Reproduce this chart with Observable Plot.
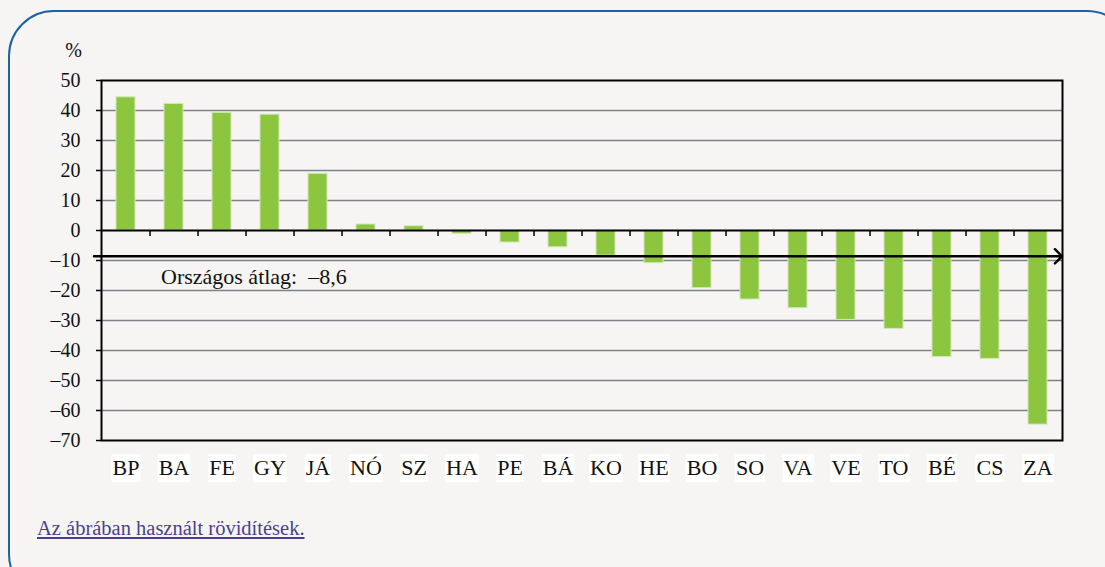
<!DOCTYPE html>
<html><head><meta charset="utf-8">
<script src="https://cdn.jsdelivr.net/npm/d3@7"></script>
<script src="https://cdn.jsdelivr.net/npm/@observablehq/plot@0.6"></script>
<style>
html,body{margin:0;padding:0;}
body{background:#f6f5f3;width:1105px;height:567px;overflow:hidden;position:relative;font-family:"Liberation Serif",serif;}
#frame{position:absolute;left:8px;top:10px;width:1125px;height:590px;border:2px solid #1f62a3;border-radius:46px;box-sizing:border-box;}
#chart{position:absolute;left:0;top:0;}
#chart svg, #chart svg text{font-family:"Liberation Serif",serif !important;}
#note{position:absolute;left:37px;top:517px;font-size:20.5px;color:#4b3f8f;text-decoration:underline;font-family:"Liberation Serif",serif;}
</style></head><body>
<div id="frame"></div>
<div id="chart"></div>
<span id="note">Az ábrában használt rövidítések.</span>
<script>
const categories = ["BP","BA","FE","GY","JÁ","NÓ","SZ","HA","PE","BÁ","KO","HE","BO","SO","VA","VE","TO","BÉ","CS","ZA"];
const values = [44.4, 42.2, 39.2, 38.6, 18.9, 2.0, 1.4, -1.1, -4.0, -5.6, -8.4, -10.9, -19.2, -23.0, -25.9, -29.8, -32.8, -42.2, -42.8, -64.7];
const average = -8.6;
const averageLabel = "Országos átlag:  –8,6";
const yTicks = [50, 40, 30, 20, 10, 0, -10, -20, -30, -40, -50, -60, -70];
const unitLabel = "%";

const data = categories.map((c, i) => ({cat: c, value: values[i]}));
const W = 1105, ML = 101, MR = 43;
const step = (W - ML - MR) / categories.length;
const fmt = d => d < 0 ? "–" + (-d) : String(d);

const plot = Plot.plot({
  width: W,
  height: 490,
  marginLeft: ML,
  marginRight: MR,
  marginTop: 80,
  marginBottom: 50,
  style: {background: "transparent", fontFamily: "'Liberation Serif', serif", color: "#111"},
  x: {type: "band", domain: categories, paddingInner: 0.6, paddingOuter: 0.3, label: null},
  y: {domain: [-70, 50], label: null},
  marks: [
    Plot.gridY(yTicks.filter(t => t !== 0 && t !== 50 && t !== -70), {stroke: "#80808a", strokeOpacity: 1, strokeWidth: 1.5}),
    Plot.barY(data, {x: "cat", y: "value", fill: "#8cc63f", stroke: "#d2e8b8", strokeWidth: 1}),
    Plot.frame({stroke: "#000", strokeWidth: 2}),
    Plot.ruleY([0], {stroke: "#000", strokeWidth: 2}),
    Plot.ruleX(categories.slice(0, -1), {x: d => d, y1: 0, y2: -2, dx: step / 2, stroke: "#000", strokeWidth: 1.5}),
    Plot.arrow([average], {
      x1: () => categories[0], x2: () => categories[categories.length - 1],
      y1: d => d, y2: d => d,
      insetStart: -32, insetEnd: -24,
      stroke: "#000", strokeWidth: 2.5, headLength: 6, headAngle: 90
    }),
    Plot.text([averageLabel], {x: () => categories[0], y: () => average, text: d => d, textAnchor: "start", dx: 35, dy: 21, fontSize: 22, fill: "#111"}),
    Plot.text([unitLabel], {frameAnchor: "top-left", text: d => d, textAnchor: "middle", lineAnchor: "middle", dx: -28, dy: -30, fontSize: 20, fill: "#111"}),
    Plot.axisY(yTicks, {tickSize: 5, tickPadding: 16, tickFormat: fmt, fontSize: 20, stroke: "#000", strokeWidth: 1.5, label: null}),
    Plot.axisX({tickSize: 0, tickPadding: 19, fontSize: 22, fill: "#111", label: null})
  ]
});
document.getElementById("chart").appendChild(plot);

// white boxes behind the category labels
d3.select(plot).selectAll('g[aria-label="x-axis tick label"] text').each(function() {
  const b = this.getBBox();
  const r = document.createElementNS("http://www.w3.org/2000/svg", "rect");
  r.setAttribute("x", b.x - 1);
  r.setAttribute("y", b.y - 1);
  r.setAttribute("width", b.width + 2);
  r.setAttribute("height", b.height + 3);
  r.setAttribute("fill", "#fff");
  const t = this.getAttribute("transform");
  if (t) r.setAttribute("transform", t);
  this.parentNode.insertBefore(r, this);
});
</script>
</body></html>
